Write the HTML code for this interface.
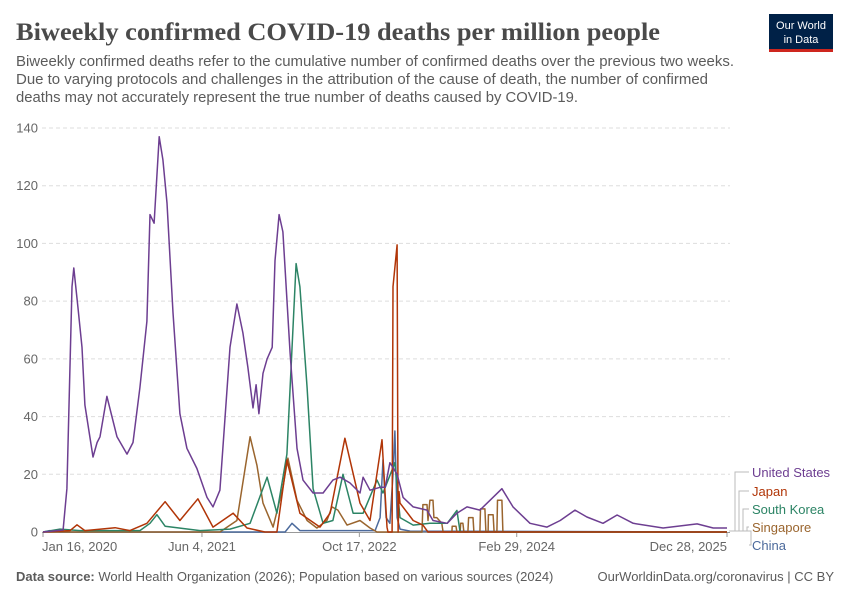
<!DOCTYPE html>
<html><head><meta charset="utf-8"><style>
body{margin:0;background:#fff;width:850px;height:600px;overflow:hidden}
svg{display:block;font-family:"Liberation Sans",sans-serif}
</style></head><body>
<svg id="chart" width="850" height="600" viewBox="0 0 850 600">
<text x="16" y="40" font-family="Liberation Serif, serif" font-weight="bold" font-size="25" fill="#4a4a4a" textLength="644" lengthAdjust="spacingAndGlyphs">Biweekly confirmed COVID-19 deaths per million people</text>
<g font-size="14.5" fill="#5b5b5b">
<text x="16" y="66" textLength="718" lengthAdjust="spacingAndGlyphs">Biweekly confirmed deaths refer to the cumulative number of confirmed deaths over the previous two weeks.</text>
<text x="16" y="84" textLength="692" lengthAdjust="spacingAndGlyphs">Due to varying protocols and challenges in the attribution of the cause of death, the number of confirmed</text>
<text x="16" y="102" textLength="562" lengthAdjust="spacingAndGlyphs">deaths may not accurately represent the true number of deaths caused by COVID-19.</text>
</g>
<g>
<rect x="769" y="14" width="64" height="36" fill="#002147"/>
<rect x="769" y="49" width="64" height="3" fill="#ce261e"/>
<text x="801" y="29" font-size="11" fill="#fff" text-anchor="middle">Our World</text>
<text x="801" y="43" font-size="11" fill="#fff" text-anchor="middle">in Data</text>
</g>
<g id="grid"></g>
<g id="series"></g>
<g id="legend"></g>
<g font-size="13" fill="#5b5b5b">
<text x="16" y="581"><tspan font-weight="bold">Data source:</tspan> World Health Organization (2026); Population based on various sources (2024)</text>
<text x="834" y="581" text-anchor="end">OurWorldinData.org/coronavirus | CC BY</text>
</g>
</svg>
<script>
// days since Jan 16, 2020
const usDays=[0,64,76,92,98,111,124,133,159,172,181,203,235,267,286,308,330,340,353,369,381,394,413,435,457,489,521,540,562,594,616,635,651,667,677,686,699,712,728,737,750,762,785,807,826,858,890,921,944,975,1007,1017,1039,1071,1087,1102,1125,1144,1176,1220,1239,1284,1315,1347,1388,1420,1458,1493,1547,1601,1643,1690,1728,1779,1824,1875,1970,2078,2129,2173];
const usVals=[0,0.7,15,85,91.5,78,64,44,26,31,33,47,33,27,31,50,73,110,107,137,129,114,76,41,29,22,12,8.7,14.5,64,79,69,57,43,51,41,55,60,64,94,110,104,62,29,18,13.5,13.5,18,19,17,13.5,19,14.5,15.5,15.5,24,20,12,8.7,7.6,4,3,6.5,8.7,7.6,11,15,8.7,3,1.7,4,7.6,5.2,3,5.9,3,1.4,2.8,1.4,1.4];
const jpDays=[0,86,108,133,229,276,330,388,435,492,540,604,648,705,743,775,816,880,912,959,1007,1039,1077,1093,1096,1109,1112,1125,1128,1131,1134,1176,1207,1223,2173];
const jpVals=[0,0.5,2.5,0.5,1.5,0.5,3,10.5,4,11.5,1.7,6.5,1.4,0,0,25,6.5,1.7,6.5,32.5,10,4,32,1.7,0,0,85,99.5,0,14,10,4,2.4,0,0];
const krDays=[0,54,118,308,340,362,388,499,594,658,712,743,775,804,816,839,858,890,921,953,985,1017,1061,1080,1118,1134,1176,1229,1284,1315,1325,2173];
const krVals=[0,1,0.5,0.5,3,6,2,0.5,1,3,19,6.5,27,93,85,50,15,3,4,20,6.5,6.5,18,13.5,24,5,2.4,3,3,7.5,0,0];
const sgDays=[0,562,616,658,680,699,731,762,778,807,839,870,902,918,937,966,1007,1039,1061,1204,1207,1220,1223,1229,1239,1242,1251,1267,1271,1299,1300,1312,1315,1325,1327,1334,1337,1350,1352,1366,1369,1388,1390,1404,1407,1414,1415,1430,1433,1442,1444,1458,1461,2173];
const sgVals=[0,0,4,33,23,10,1.7,15.5,25.6,11,4,1.4,4,8.7,7.6,2.4,4,1.4,0,0,9.5,9.5,4,11,11,5,5,3,0,0,2,2,0,0,3,3,0,0,5,5,0,0,8,8,0,0,6,6,0,0,11,11,0,0];
const cnDays=[0,22,54,769,791,816,1055,1071,1080,1090,1102,1112,1118,1125,1134,1166,2173];
const cnVals=[0,0.5,0,0,3,0.5,0.5,5,25,5,3,20,35,5,1,0.3,0];
const yTicks=[0,20,40,60,80,100,120,140];
const xTickDays=[0,505,1005,1505,2173];
const xTickLabels=["Jan 16, 2020","Jun 4, 2021","Oct 17, 2022","Feb 29, 2024","Dec 28, 2025"];
const legendNames=["United States","Japan","South Korea","Singapore","China"];

const X0=43,X1=727,Y0=532,YTOP=128,DMAX=2173,VMAX=140;
const xs=d=>X0+(X1-X0)*d/DMAX;
const ys=v=>Y0-(Y0-YTOP)*v/VMAX;
const NS="http://www.w3.org/2000/svg";
function mk(tag,attrs,parent){const e=document.createElementNS(NS,tag);for(const k in attrs)e.setAttribute(k,attrs[k]);parent.appendChild(e);return e;}
const grid=document.getElementById('grid');
yTicks.forEach(v=>{
  if(v>0){const l=mk('line',{x1:42,x2:730,y1:ys(v),y2:ys(v),stroke:'#ddd','stroke-dasharray':'4,3'},grid);
  
  }
  const t=mk('text',{x:38,y:ys(v)+4.5,'text-anchor':'end','font-size':13,fill:'#666'},grid);
  t.textContent=v;
  
  
});
const ax=mk('line',{x1:42,x2:730,y1:Y0+0.5,y2:Y0+0.5,stroke:'#999'},grid);


xTickDays.forEach((d,i)=>{
  mk('line',{x1:xs(d),x2:xs(d),y1:Y0,y2:Y0+5,stroke:'#999'},grid);
  const anchor=i==xTickDays.length-1?'end':'middle';
  const tx=i==0?Math.max(xs(d),80):xs(d);
  const t=mk('text',{x:i==xTickDays.length-1?X1:(i==0?42:tx),y:551,'text-anchor':i==0?'start':anchor,'font-size':13,fill:'#666'},grid);
  t.textContent=xTickLabels[i];
  
  
});
const series=[
 ["china",cnDays,cnVals,"#4c6a9c"],
 ["singapore",sgDays,sgVals,"#9a652e"],
 ["south-korea",krDays,krVals,"#2c8465"],
 ["japan",jpDays,jpVals,"#b13507"],
 ["united-states",usDays,usVals,"#6d3e91"]];
const sg=document.getElementById('series');
series.forEach(s=>{
  const d=s[1].map((day,i)=>(i?'L':'M')+xs(day).toFixed(1)+','+ys(s[2][i]).toFixed(1)).join('');
  const p=mk('path',{d:d,fill:'none',stroke:s[3],'stroke-width':1.5,'stroke-linejoin':'round'},sg);
  
  
});
const lg=document.getElementById('legend');
const lcol=["#6d3e91","#b13507","#2c8465","#9a652e","#4c6a9c"];
const ly=[472,491,509,527,545];
const lx=[735,739,743,747,751];
legendNames.forEach((n,i)=>{
  mk('path',{d:`M729,${Y0-1}H${lx[i]}V${ly[i]}H749`,fill:'none',stroke:'#bbb','stroke-width':1},lg);
  const t=mk('text',{x:752,y:ly[i]+5,'font-size':13,fill:lcol[i]},lg);
  t.textContent=n;
  
  
});
</script>
</body></html>
